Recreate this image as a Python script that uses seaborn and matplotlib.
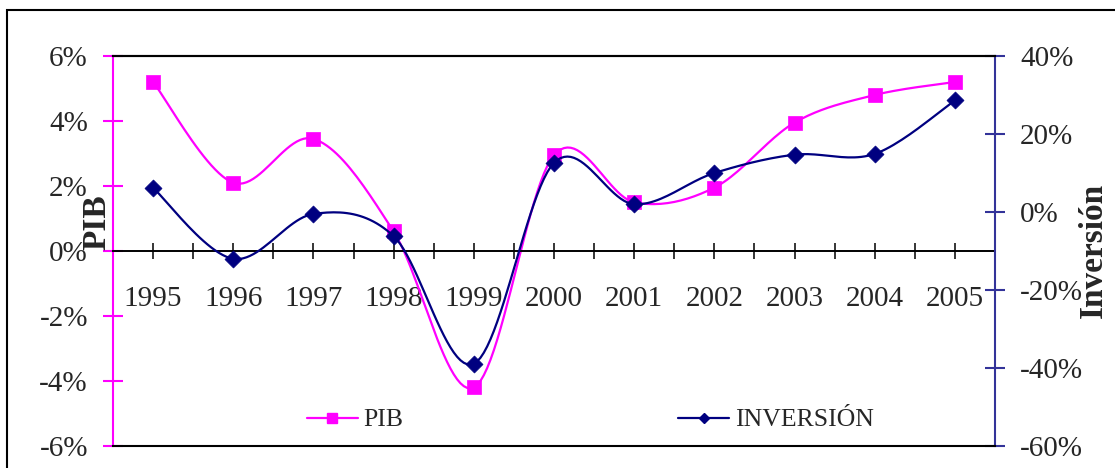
import numpy as np
import pandas as pd
import matplotlib
matplotlib.use("Agg")
import matplotlib.pyplot as plt
from matplotlib.lines import Line2D
from matplotlib.patches import Rectangle
import seaborn as sns

# Annual data
years = ["1995", "1996", "1997", "1998", "1999", "2000",
         "2001", "2002", "2003", "2004", "2005"]
pib = [5.2, 2.1, 3.45, 0.6, -4.2, 2.95, 1.5, 1.95, 3.95, 4.8, 5.2]          # %
inversion = [6.2, -12.0, -0.5, -6.2, -38.9, 12.6, 2.0, 10.0, 14.7, 14.9, 28.6]  # %

pib_ticks = [-6, -4, -2, 0, 2, 4, 6]
inv_ticks = [-60, -40, -20, 0, 20, 40]

MAGENTA = "#FF00FF"
NAVY = "#000080"
AXIS_BLUE = "#333399"


def smooth_curve(xv, yv, steps=24):
    """Bezier smoothing through every point (Catmull-Rom style control points)."""
    xv = np.asarray(xv, float)
    yv = np.asarray(yv, float)
    px = np.concatenate([[xv[0]], xv, [xv[-1]]])
    py = np.concatenate([[yv[0]], yv, [yv[-1]]])
    out_x, out_y = [], []
    n = len(xv)
    for i in range(n - 1):
        t = np.linspace(0, 1, steps, endpoint=(i == n - 2))
        for p, out in ((px, out_x), (py, out_y)):
            p0, p1, p2, p3 = p[i], p[i + 1], p[i + 2], p[i + 3]
            c1 = p1 + (p2 - p0) / 6.0
            c2 = p2 - (p3 - p1) / 6.0
            b = ((1 - t) ** 3) * p1 + 3 * ((1 - t) ** 2) * t * c1 \
                + 3 * (1 - t) * t ** 2 * c2 + t ** 3 * p2
            out.extend(b)
    return np.array(out_x), np.array(out_y)


sns.set_style("white")
plt.rcParams["font.family"] = ["Liberation Serif", "DejaVu Serif"]
plt.rcParams["axes.unicode_minus"] = False

W, H = 1115, 468
fig = plt.figure(figsize=(W / 100, H / 100), dpi=100)
L, R, T, B = 113, 995, 56, 446
ax = fig.add_axes([L / W, 1 - B / H, (R - L) / W, (B - T) / H])
ax2 = ax.twinx()

pos = np.arange(len(years))
df = pd.DataFrame({"pos": pos, "pib": pib, "inv": inversion})

# PIB on the left axis
sx, sy = smooth_curve(df["pos"], df["pib"])
sns.lineplot(x=sx, y=sy, ax=ax, color=MAGENTA, lw=1.6, sort=False,
             estimator=None, legend=False)
sns.scatterplot(data=df, x="pos", y="pib", ax=ax, marker="s", s=100,
                color=MAGENTA, edgecolor=MAGENTA, linewidth=0.5,
                legend=False, zorder=3)

# Inversion on the right axis
sx, sy = smooth_curve(df["pos"], df["inv"])
sns.lineplot(x=sx, y=sy, ax=ax2, color=NAVY, lw=1.6, sort=False,
             estimator=None, legend=False)
sns.scatterplot(data=df, x="pos", y="inv", ax=ax2, marker="D", s=75,
                color=NAVY, edgecolor=NAVY, linewidth=0.5,
                legend=False, zorder=3)

# Limits
ax.set_xlim(-0.5, len(years) - 0.5)
ax.set_ylim(pib_ticks[0], pib_ticks[-1])
ax2.set_ylim(inv_ticks[0], inv_ticks[-1])

# Category axis crossing at PIB = 0
ax.spines["bottom"].set_position(("data", 0))
ax.spines["bottom"].set_color("black")
ax.spines["bottom"].set_linewidth(1.4)
ax.spines["top"].set_color("black")
ax.spines["top"].set_linewidth(1.5)
ax.spines["right"].set_visible(False)
ax.spines["left"].set_color(MAGENTA)
ax.spines["left"].set_linewidth(1.5)

ax2.spines["left"].set_visible(False)
ax2.spines["top"].set_color("black")
ax2.spines["top"].set_linewidth(1.5)
ax2.spines["bottom"].set_color("black")
ax2.spines["bottom"].set_linewidth(1.5)
ax2.spines["right"].set_color(AXIS_BLUE)
ax2.spines["right"].set_linewidth(1.5)

ax.set_xticks(pos)
ax.set_xticklabels(years)
ax.set_xticks(np.arange(-0.5, len(years), 1.0), minor=True)
ax.tick_params(axis="x", which="both", direction="inout", length=11,
               width=1.1, color="black", bottom=True)
ax.tick_params(axis="x", which="major", labelsize=21, pad=20)

ax.set_yticks(pib_ticks)
ax.set_yticklabels([f"{v}%" for v in pib_ticks])
ax.tick_params(axis="y", direction="inout", length=14, width=1.5,
               color=MAGENTA, labelsize=21, pad=11, left=True)

ax2.set_yticks(inv_ticks)
ax2.set_yticklabels([f"{v}%" for v in inv_ticks])
ax2.tick_params(axis="y", direction="inout", length=14, width=1.5,
                color=AXIS_BLUE, labelsize=21, pad=11, right=True)

ax.set_xlabel("")
ax.set_ylabel("PIB", fontsize=24, fontweight="bold")
ax.yaxis.label.set_va("center")
ax.yaxis.set_label_coords((97 - L) / (R - L), (B - 222) / (B - T))
ax2.set_ylabel("Inversión", fontsize=24, fontweight="bold")
ax2.yaxis.label.set_va("center")
ax2.yaxis.label.set_rotation(90)
ax2.yaxis.set_label_coords((1093 - L) / (R - L), (B - 250) / (B - T))

# Legend inside the plot area
handles = [
    Line2D([], [], color=MAGENTA, lw=1.6, marker="s", markersize=7.5),
    Line2D([], [], color=NAVY, lw=1.6, marker="D", markersize=5.5),
]
fig.legend(handles, ["PIB", "INVERSIÓN"], ncol=2, frameon=False,
           loc="center", bbox_to_anchor=(590 / W, 1 - 420 / H),
           fontsize=18.5, handlelength=2.0, handletextpad=0.2,
           columnspacing=10.7)

# Outer chart border
fig.patches.append(Rectangle((7 / W, -0.5), 2.0, (1 - 10 / H) + 0.5,
                             transform=fig.transFigure, fill=False,
                             edgecolor="black", lw=1.5, zorder=0))

fig.savefig("out.png", dpi=100, facecolor="white")
